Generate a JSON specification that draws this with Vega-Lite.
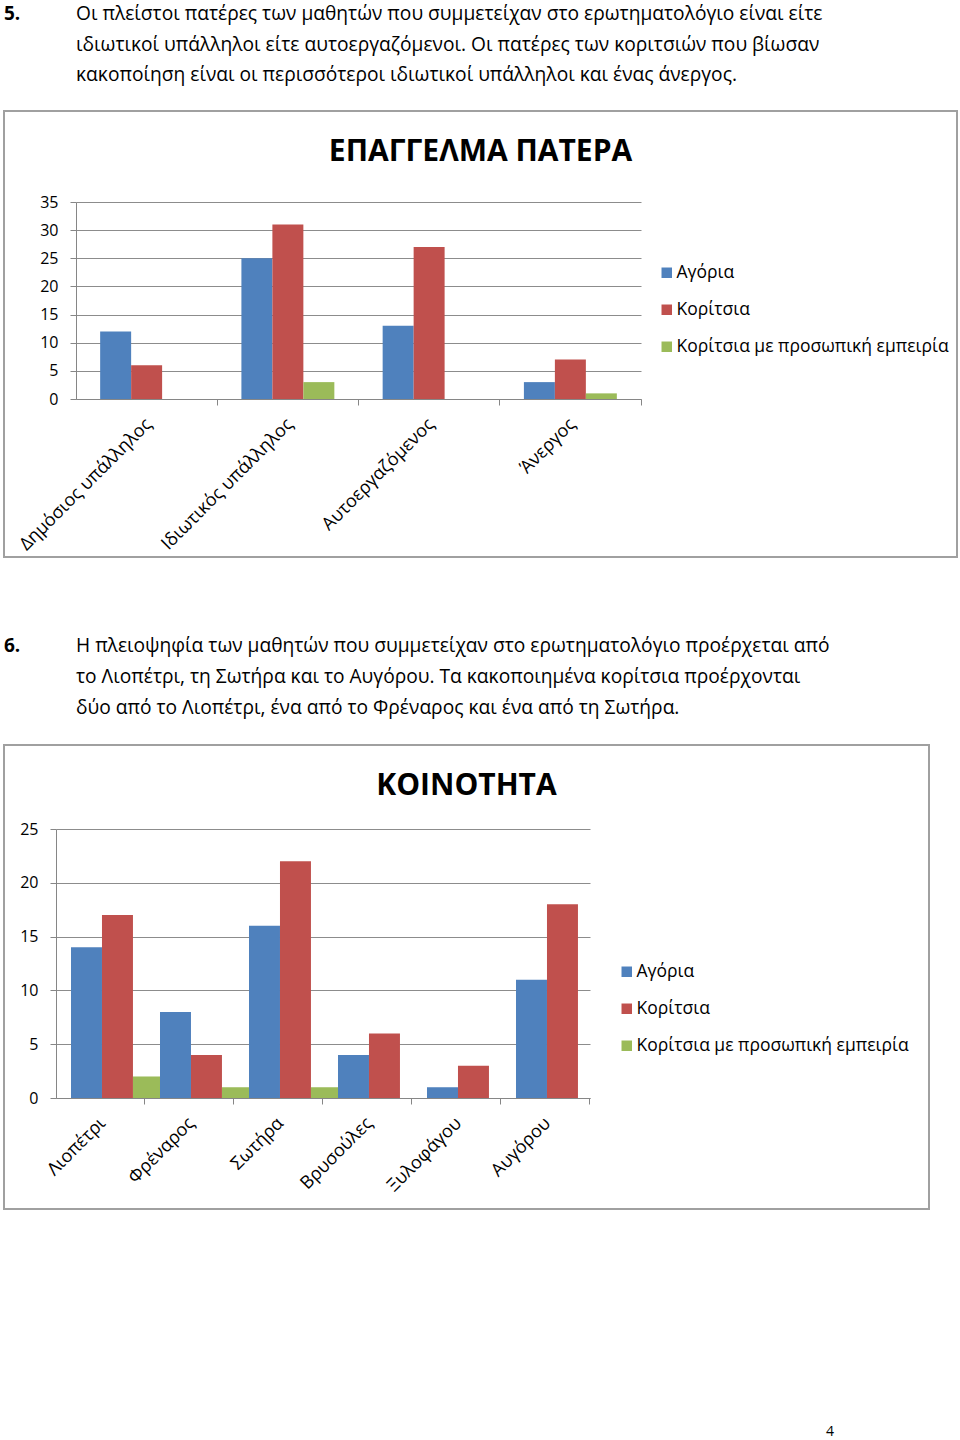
{
  "$schema": "https://vega.github.io/schema/vega-lite/v6.json",
  "padding": {"left": 3, "top": 0, "right": 0, "bottom": 0},
  "background": "white",
  "spacing": 0,
  "bounds": "flush",
  "resolve": {"scale": {"color": "independent"}, "legend": {"color": "independent"}},
  "title": {"text": "4", "orient": "bottom", "anchor": "end", "dx": -124, "offset": 226, "fontSize": 14, "fontWeight": "normal", "baseline": "alphabetic", "color": "#000000"},
  "config": {
    "font": "Open Sans",
    "text": {"font": "Open Sans"},
    "axis": {"labelFont": "Open Sans", "labelColor": "#000000", "domainColor": "#868686", "tickColor": "#868686", "gridColor": "#8c8c8c", "title": null},
    "legend": {"labelFont": "Open Sans", "labelColor": "#000000"},
    "title": {"font": "Open Sans", "color": "#000000"}
  },
  "vconcat": [
    {
      "width": 953,
      "height": 111,
      "view": {"stroke": null},
      "data": {"values": [
        {"col": "num", "line": 1, "text": "5."},
        {"col": "body", "line": 1, "text": "Οι πλείστοι πατέρες των μαθητών που συμμετείχαν στο ερωτηματολόγιο είναι είτε"},
        {"col": "body", "line": 2, "text": "ιδιωτικοί υπάλληλοι είτε αυτοεργαζόμενοι. Οι πατέρες των κοριτσιών που βίωσαν"},
        {"col": "body", "line": 3, "text": "κακοποίηση είναι οι περισσότεροι ιδιωτικοί υπάλληλοι και ένας άνεργος."}
      ]},
      "encoding": {
        "x": {"field": "col", "type": "nominal", "scale": {"type": "point", "domain": ["num", "body"], "range": [0, 72], "padding": 0}, "axis": null},
        "y": {"field": "line", "type": "ordinal", "scale": {"type": "point", "domain": [1, 2, 3], "range": [20, 81], "padding": 0}, "axis": null},
        "text": {"field": "text"}
      },
      "layer": [
        {"transform": [{"filter": "datum.col === 'num'"}], "mark": {"type": "text", "align": "left", "baseline": "alphabetic", "fontSize": 19, "fontWeight": "bold", "color": "#000000"}},
        {"transform": [{"filter": "datum.col === 'body'"}], "mark": {"type": "text", "align": "left", "baseline": "alphabetic", "fontSize": 19.2, "color": "#000000"}}
      ]
    },
    {
      "width": 953,
      "height": 446,
      "view": {"stroke": "#a0a0a0", "strokeWidth": 2},
      "title": {"text": "ΕΠΑΓΓΕΛΜΑ ΠΑΤΕΡΑ", "fontSize": 30, "fontWeight": "bold", "anchor": "middle", "frame": "group", "offset": -80, "baseline": "alphabetic"},
      "data": {"values": [
        {"category": "Δημόσιος υπάλληλος", "group": "Αγόρια", "value": 12},
        {"category": "Δημόσιος υπάλληλος", "group": "Κορίτσια", "value": 6},
        {"category": "Δημόσιος υπάλληλος", "group": "Κορίτσια με προσωπική εμπειρία", "value": 0},
        {"category": "Ιδιωτικός υπάλληλος", "group": "Αγόρια", "value": 25},
        {"category": "Ιδιωτικός υπάλληλος", "group": "Κορίτσια", "value": 31},
        {"category": "Ιδιωτικός υπάλληλος", "group": "Κορίτσια με προσωπική εμπειρία", "value": 3},
        {"category": "Αυτοεργαζόμενος", "group": "Αγόρια", "value": 13},
        {"category": "Αυτοεργαζόμενος", "group": "Κορίτσια", "value": 27},
        {"category": "Αυτοεργαζόμενος", "group": "Κορίτσια με προσωπική εμπειρία", "value": 0},
        {"category": "Άνεργος", "group": "Αγόρια", "value": 3},
        {"category": "Άνεργος", "group": "Κορίτσια", "value": 7},
        {"category": "Άνεργος", "group": "Κορίτσια με προσωπική εμπειρία", "value": 1}
      ]},
      "mark": {"type": "bar"},
      "encoding": {
        "x": {"field": "category", "type": "nominal", "sort": null,
              "scale": {"range": [72, 637], "paddingInner": 0.342, "paddingOuter": 0.171},
              "axis": {"orient": "bottom", "offset": -158, "labelAngle": -45, "bandPosition": 1.26, "tickSize": 6, "labelFontSize": 18, "labelPadding": 10, "labelOffset": -4, "labelLimit": 400, "grid": false}},
        "xOffset": {"field": "group", "type": "nominal", "sort": ["Αγόρια", "Κορίτσια", "Κορίτσια με προσωπική εμπειρία"], "scale": {"paddingInner": 0, "paddingOuter": 0}},
        "y": {"field": "value", "type": "quantitative",
              "scale": {"domain": [0, 35], "range": [288, 91], "nice": false, "zero": true},
              "axis": {"values": [0, 5, 10, 15, 20, 25, 30, 35], "offset": -72, "grid": true, "tickSize": 6, "labelPadding": 12, "labelFontSize": 16}},
        "color": {"field": "group", "type": "nominal",
                  "scale": {"domain": ["Αγόρια", "Κορίτσια", "Κορίτσια με προσωπική εμπειρία"], "range": ["#4F81BD", "#C0504D", "#9BBB59"]},
                  "legend": {"orient": "none", "legendX": 654, "legendY": 153, "title": null, "symbolType": "square", "symbolSize": 110, "symbolStrokeWidth": 0, "labelFontSize": 17.5, "rowPadding": 18, "labelOffset": 1, "labelLimit": 400, "padding": 0}}
      }
    },
    {
      "width": 925,
      "height": 188,
      "view": {"stroke": null},
      "data": {"values": [
        {"col": "num", "line": 1, "text": "6."},
        {"col": "body", "line": 1, "text": "Η πλειοψηφία των μαθητών που συμμετείχαν στο ερωτηματολόγιο προέρχεται από"},
        {"col": "body", "line": 2, "text": "το Λιοπέτρι, τη Σωτήρα και το Αυγόρου. Τα κακοποιημένα κορίτσια προέρχονται"},
        {"col": "body", "line": 3, "text": "δύο από το Λιοπέτρι, ένα από το Φρέναρος και ένα από τη Σωτήρα."}
      ]},
      "encoding": {
        "x": {"field": "col", "type": "nominal", "scale": {"type": "point", "domain": ["num", "body"], "range": [0, 72], "padding": 0}, "axis": null},
        "y": {"field": "line", "type": "ordinal", "scale": {"type": "point", "domain": [1, 2, 3], "range": [95, 157], "padding": 0}, "axis": null},
        "text": {"field": "text"}
      },
      "layer": [
        {"transform": [{"filter": "datum.col === 'num'"}], "mark": {"type": "text", "align": "left", "baseline": "alphabetic", "fontSize": 19, "fontWeight": "bold", "color": "#000000"}},
        {"transform": [{"filter": "datum.col === 'body'"}], "mark": {"type": "text", "align": "left", "baseline": "alphabetic", "fontSize": 19.2, "color": "#000000"}}
      ]
    },
    {
      "width": 925,
      "height": 464,
      "view": {"stroke": "#a0a0a0", "strokeWidth": 2},
      "title": {"text": "ΚΟΙΝΟΤΗΤΑ", "fontSize": 30, "fontWeight": "bold", "anchor": "middle", "frame": "group", "offset": -80, "baseline": "alphabetic"},
      "data": {"values": [
        {"category": "Λιοπέτρι", "group": "Αγόρια", "value": 14},
        {"category": "Λιοπέτρι", "group": "Κορίτσια", "value": 17},
        {"category": "Λιοπέτρι", "group": "Κορίτσια με προσωπική εμπειρία", "value": 2},
        {"category": "Φρέναρος", "group": "Αγόρια", "value": 8},
        {"category": "Φρέναρος", "group": "Κορίτσια", "value": 4},
        {"category": "Φρέναρος", "group": "Κορίτσια με προσωπική εμπειρία", "value": 1},
        {"category": "Σωτήρα", "group": "Αγόρια", "value": 16},
        {"category": "Σωτήρα", "group": "Κορίτσια", "value": 22},
        {"category": "Σωτήρα", "group": "Κορίτσια με προσωπική εμπειρία", "value": 1},
        {"category": "Βρυσούλες", "group": "Αγόρια", "value": 4},
        {"category": "Βρυσούλες", "group": "Κορίτσια", "value": 6},
        {"category": "Βρυσούλες", "group": "Κορίτσια με προσωπική εμπειρία", "value": 0},
        {"category": "Ξυλοφάγου", "group": "Αγόρια", "value": 1},
        {"category": "Ξυλοφάγου", "group": "Κορίτσια", "value": 3},
        {"category": "Ξυλοφάγου", "group": "Κορίτσια με προσωπική εμπειρία", "value": 0},
        {"category": "Αυγόρου", "group": "Αγόρια", "value": 11},
        {"category": "Αυγόρου", "group": "Κορίτσια", "value": 18},
        {"category": "Αυγόρου", "group": "Κορίτσια με προσωπική εμπειρία", "value": 0}
      ]},
      "mark": {"type": "bar"},
      "encoding": {
        "x": {"field": "category", "type": "nominal", "sort": null,
              "scale": {"range": [52, 586], "paddingInner": 0.337, "paddingOuter": 0.1685},
              "axis": {"orient": "bottom", "offset": -111, "labelAngle": -45, "bandPosition": 1.254, "tickSize": 6, "labelFontSize": 18, "labelPadding": 10, "labelOffset": -4, "labelLimit": 400, "grid": false}},
        "xOffset": {"field": "group", "type": "nominal", "sort": ["Αγόρια", "Κορίτσια", "Κορίτσια με προσωπική εμπειρία"], "scale": {"paddingInner": 0, "paddingOuter": 0}},
        "y": {"field": "value", "type": "quantitative",
              "scale": {"domain": [0, 25], "range": [353, 84], "nice": false, "zero": true},
              "axis": {"values": [0, 5, 10, 15, 20, 25], "offset": -52, "grid": true, "tickSize": 6, "labelPadding": 12, "labelFontSize": 16}},
        "color": {"field": "group", "type": "nominal",
                  "scale": {"domain": ["Αγόρια", "Κορίτσια", "Κορίτσια με προσωπική εμπειρία"], "range": ["#4F81BD", "#C0504D", "#9BBB59"]},
                  "legend": {"orient": "none", "legendX": 614, "legendY": 218, "title": null, "symbolType": "square", "symbolSize": 110, "symbolStrokeWidth": 0, "labelFontSize": 17.5, "rowPadding": 18, "labelOffset": 1, "labelLimit": 400, "padding": 0}}
      }
    }
  ]
}
